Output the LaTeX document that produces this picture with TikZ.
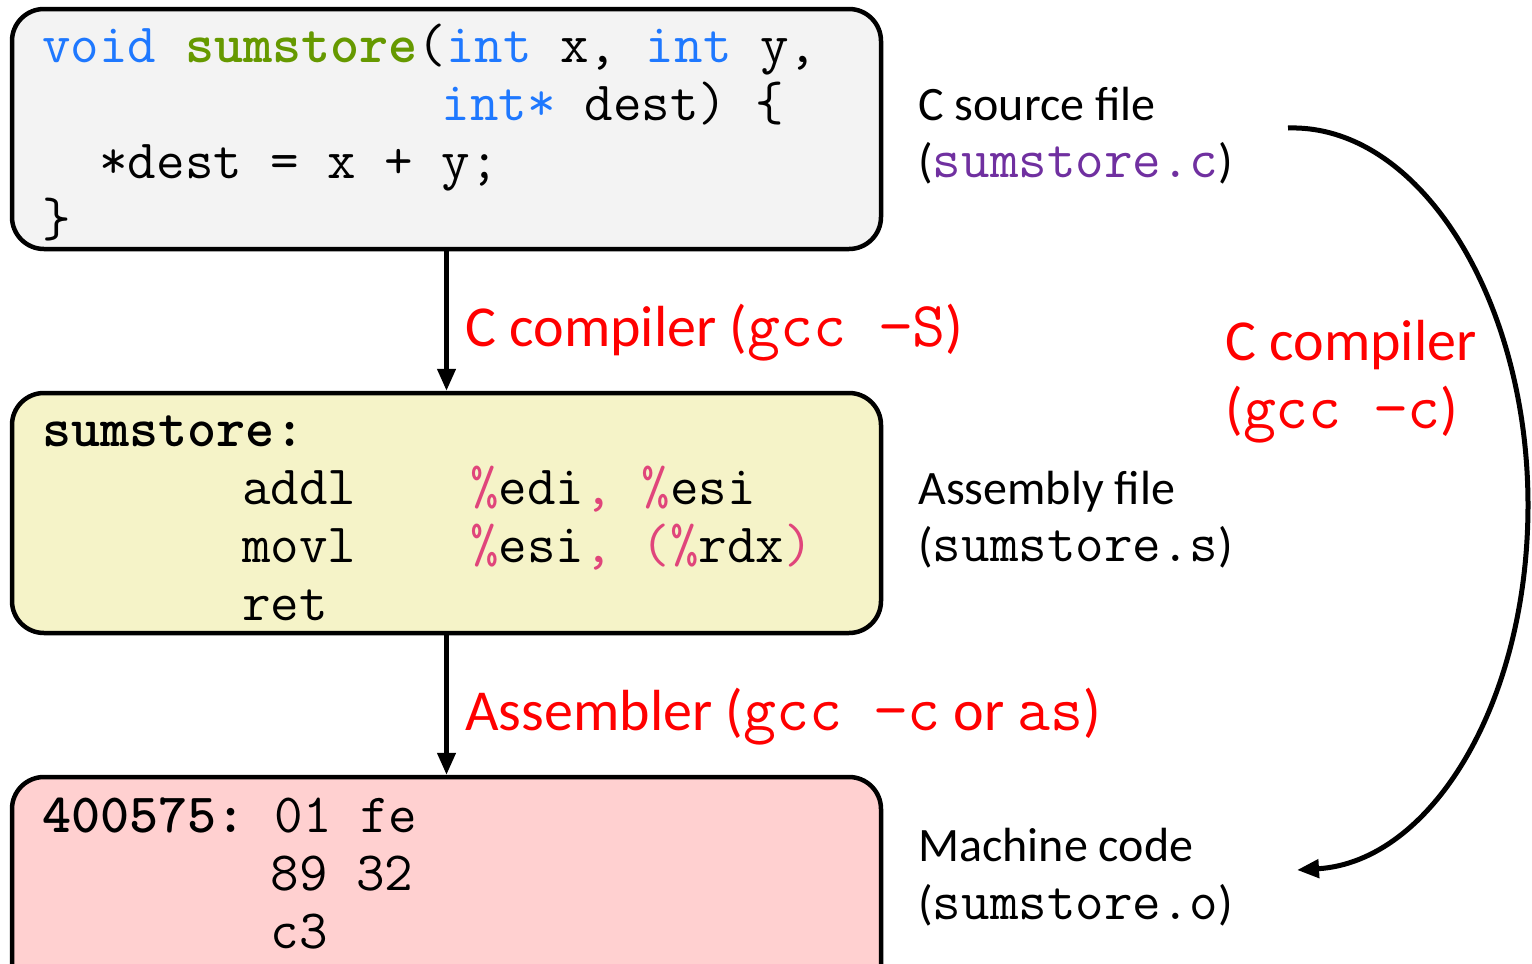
\documentclass[tikz,border=0pt]{standalone}
\usepackage{fontspec}
\setmainfont{Carlito}
\usetikzlibrary{arrows.meta}
\definecolor{kwblue}{HTML}{1E78FF}
\definecolor{fngreen}{HTML}{669900}
\definecolor{regpink}{HTML}{E0457B}
\definecolor{fpurple}{HTML}{7030A0}
\definecolor{fillgray}{HTML}{F3F3F3}
\definecolor{fillyellow}{HTML}{F5F3C8}
\definecolor{fillpink}{HTML}{FFD0D0}
\newcommand\kw[1]{{\color{kwblue}#1}}
\newcommand\rg[1]{{\color{regpink}#1}}
\newcommand\cmono{\ttfamily\fontsize{27.7}{33}\selectfont}
\newcommand\redmono[1]{{\ttfamily\fontsize{32}{37}\selectfont #1}}
\tikzset{
  codebox/.style={draw=black, line width=2.25pt, rounded corners=16pt,
    minimum width=434.5pt, minimum height=120pt, inner sep=0pt},
  code/.style={anchor=base west, inner sep=0pt, font=\cmono},
  lbl/.style={anchor=base west, inner sep=0pt, font=\fontsize{24}{29}\selectfont},
  redlbl/.style={anchor=base west, inner sep=0pt, text=red, font=\fontsize{29}{35}\selectfont},
  arr/.style={line width=2.25pt, -{Triangle[length=11pt,width=9pt]}},
}
\begin{document}
\begin{tikzpicture}[x=0.5pt,y=-0.5pt]
\useasboundingbox (0,0) rectangle (1532,964);
\clip (0,0) rectangle (1532,964);
% boxes
\node[codebox, fill=fillgray] (src) at (446.5,129) {};
\node[codebox, fill=fillyellow] (asm) at (446.5,513) {};
\node[codebox, fill=fillpink, minimum height=113pt] (obj) at (446.5,890) {};
% arrows
\draw[arr] (src.south) -- (asm.north);
\draw[arr] (asm.south) -- (obj.north);
% source code
\node[code] (s1) at (42,62) {\kw{void}~{\bfseries\color{fngreen}sumstore}(\kw{int}~x,~\kw{int}~y,};
\node[code] (s2) at (42,120) {~~~~~~~~~~~~~~\kw{int*}~dest)~\{};
\node[code] (s3) at (42,178) {~~*dest~=~x~+~y;};
\node[code] (s4) at (42,236) {\}};
% assembly
\node[code] (a1) at (42,446) {\bfseries sumstore:};
\node[code] (a2) at (42,504) {~~~~~~~addl~~~~\rg{\%}edi\rg{,}~\rg{\%}esi};
\node[code] (a3) at (42,562) {~~~~~~~movl~~~~\rg{\%}esi\rg{,}~\rg{(\%}rdx\rg{)}};
\node[code] (a4) at (42,620) {~~~~~~~ret};
% machine code
\node[code] (m1) at (42,832) {{\bfseries 400575:}~01~fe};
\node[code] (m2) at (42,890) {~~~~~~~~89~32};
\node[code] (m3) at (42,948) {~~~~~~~~c3};
% right labels
\node[lbl] (l1) at (918,120) {C source file};
\node[lbl] (l2) at (918,177) {({\cmono\color{fpurple}sumstore.c})};
\node[lbl] (l3) at (918,504) {Assembly file};
\node[lbl] (l4) at (918,561) {({\cmono sumstore.s})};
\node[lbl] (l5) at (918,861) {Machine code};
\node[lbl] (l6) at (918,919) {({\cmono sumstore.o})};
% red labels
\node[redlbl] (r1) at (465,346) {C compiler (\redmono{gcc~−S})};
\node[redlbl] (r2) at (1225,360) {C compiler};
\node[redlbl] (r3) at (1225,428) {(\redmono{gcc~−c})};
\node[redlbl] (r4) at (465,730) {Assembler (\redmono{gcc~−c} or \redmono{as})};
% curved arrow
\coordinate (cs) at (1288,128);
\coordinate (ce) at (1297,870);
\draw[arr, line width=2.5pt] (cs) .. controls (1420,124) and (1528,300) .. (1528,505)
               .. controls (1528,705) and (1430,862) .. (ce);
\end{tikzpicture}
\end{document}
